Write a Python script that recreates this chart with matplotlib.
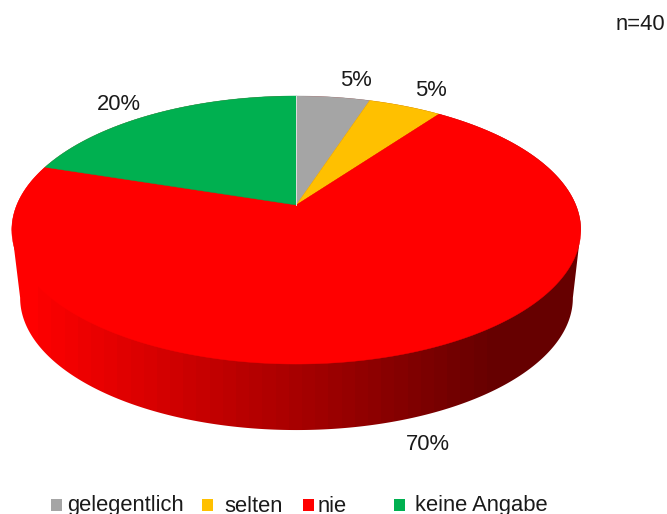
import numpy as np
import matplotlib
matplotlib.use("Agg")
import matplotlib.pyplot as plt
from matplotlib.colors import LinearSegmentedColormap
from matplotlib.patches import Polygon, Rectangle

plt.rcParams['font.family'] = ['Liberation Sans', 'DejaVu Sans']

categories = ['gelegentlich', 'selten', 'nie', 'keine Angabe']
values = [5, 5, 70, 20]
colors = ['#A5A5A5', '#FFC000', '#FF0000', '#00B050']
note = 'n=40'

# layout (pixels)
label_xy = [(356, 81), (431, 91), (428, 445), (119, 105)]
legend_box_x = [51, 202, 303, 394]
legend_text_x = [67, 224, 318, 415]
FS = 15.8
TXT = '#1a1a1a'

fig = plt.figure(figsize=(6.67, 5.14), dpi=100)
ax = fig.add_axes([0, 0, 1, 1])
wedges, _ = ax.pie(values, colors=colors, startangle=90, counterclock=False, radius=1)
angles = [(w.theta1, w.theta2) for w in wedges]
for w in wedges:
    w.remove()
ax.set_aspect('auto')
ax.set_xlim(0, 667)
ax.set_ylim(514, 0)
ax.axis('off')


def project(x, y, cx=296.3, y0=205.0, a=279.5, p=-91.1, k=0.1866):
    d = 1 + k * y
    return cx + a * x / d, (y0 + p * y) / d


def bottom(x, y):
    return project(x, y, cx=296.5, y0=273.3, a=271.5, p=-76.5)


def circle(t_deg):
    t = np.radians(t_deg)
    return np.cos(t), np.sin(t)


# side wall
t_top = np.linspace(-10.7, 190.7, 400)
t_bot = np.linspace(190.7, 349.3, 400)
tx, ty = project(*circle(t_top))
bx, by = bottom(*circle(t_bot))
wall = Polygon(np.r_[np.c_[tx, ty], np.c_[bx, by]], closed=True, transform=ax.transData,
               facecolor='none', edgecolor='none')
ax.add_patch(wall)
cmap = LinearSegmentedColormap.from_list('w', [(1, 0, 0), (0.40, 0, 0)])
grad = np.linspace(0, 1, 36).reshape(1, -1)
im = ax.imshow(grad, extent=(25, 500, 514, 0), cmap=cmap, aspect='auto', zorder=1,
               interpolation='nearest')
im.set_clip_path(wall)
im2 = ax.imshow([[1.0]], extent=(500, 600, 514, 0), cmap=cmap, vmin=0, vmax=1, aspect='auto',
                zorder=1)
im2.set_clip_path(wall)
im3 = ax.imshow([[0.0]], extent=(0, 25, 514, 0), cmap=cmap, vmin=0, vmax=1, aspect='auto',
                zorder=1)
im3.set_clip_path(wall)
ax.set_xlim(0, 667)
ax.set_ylim(514, 0)

# top surface
for (t1, t2), c in zip(angles, colors):
    t = np.linspace(t1, t2, 300)
    x, y = circle(t)
    x, y = project(np.r_[0, x], np.r_[0, y])
    ax.add_patch(Polygon(np.c_[x, y], closed=True, facecolor=c, edgecolor=c, lw=0.3, zorder=2))

# thin light seam at 12 o'clock
sx, sy = project(np.array([0.0, 0.0]), np.array([0.0, 1.0]))
ax.plot(sx, sy, color='#e0e0e0', lw=0.7, zorder=3)

for (lx, ly), v in zip(label_xy, values):
    ax.text(lx, ly, f'{v}%', ha='center', va='center', fontsize=FS, color=TXT, zorder=4)

ax.text(665, 25, note, ha='right', va='center', fontsize=FS, color=TXT)

for bxp, txp, c, lab in zip(legend_box_x, legend_text_x, colors, categories):
    ax.add_patch(Rectangle((bxp, 499), 11, 11.5, facecolor=c, edgecolor='none', zorder=4))
    ax.text(txp, 511.5, lab, ha='left', va='baseline', fontsize=FS, color=TXT, clip_on=False)

fig.savefig('out.png', dpi=100)
